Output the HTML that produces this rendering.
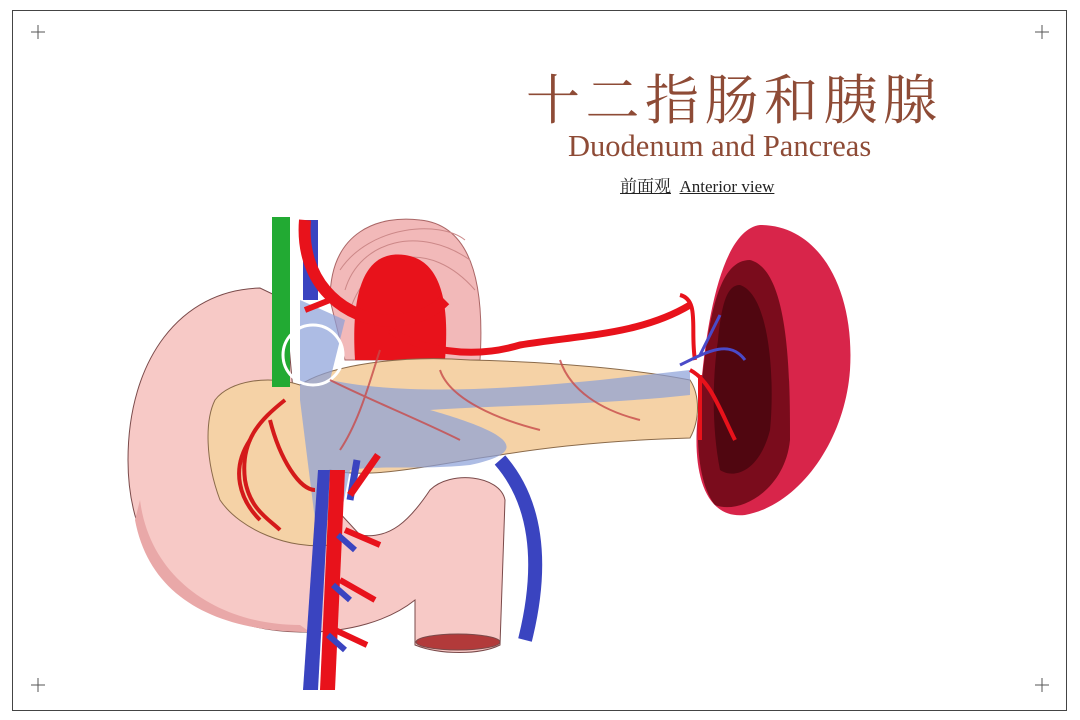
<!DOCTYPE html>
<html><head><meta charset="utf-8"><style>
html,body{margin:0;padding:0;background:#fff;}
body{width:1080px;height:720px;position:relative;overflow:hidden;}
.frame{position:absolute;left:12px;top:10px;width:1055px;height:701px;border:1.5px solid #444;box-sizing:border-box;}
.t1{position:absolute;left:526px;top:58px;font-family:"Liberation Serif","Noto Serif CJK SC",serif;font-size:54px;color:#8e4b36;letter-spacing:5.5px;white-space:nowrap;}
.t2{position:absolute;left:568px;top:129px;font-family:"Liberation Serif",serif;font-size:30.5px;color:#8e4b36;white-space:nowrap;}
.t3{position:absolute;left:620px;top:172px;font-family:"Liberation Serif","Noto Serif CJK SC",serif;font-size:17px;color:#222;white-space:nowrap;}
.t3 span{text-decoration:underline;}
</style></head><body>
<div class="frame"></div>
<div class="t1">十二指肠和胰腺</div>
<div class="t2">Duodenum and Pancreas</div>
<div class="t3"><span>前面观</span>&nbsp;&nbsp;<span>Anterior view</span></div>
<svg width="1080" height="720" style="position:absolute;left:0;top:0">
<g stroke="#555" stroke-width="1">
<path d="M31 32h14M38 25v14M1035 32h14M1042 25v14M31 685h14M38 678v14M1035 685h14M1042 678v14"/>
</g>
<path d="M330 300 C330 230 380 215 420 220 C470 225 485 280 480 360 L345 360 Z" fill="#f2b9b9" stroke="#a66" stroke-width="1"/>
<g stroke="#c88" fill="none" stroke-width="1"><path d="M345 290 C360 240 420 225 470 260"/><path d="M350 310 C370 250 430 238 475 290"/><path d="M340 270 C370 225 440 220 465 240"/></g>
<path d="M355 360 C350 280 370 250 405 255 C440 260 450 300 445 360 Z" fill="#e8121b"/>
<path d="M260 288 C180 290 128 360 128 460 C128 570 200 630 300 632 C350 633 390 620 415 600 L415 645 C440 655 480 655 500 645 L505 500 C500 475 450 470 430 490 C410 520 390 540 360 535 L300 470 L285 300 Z" fill="#f7c9c6" stroke="#7a4a4a" stroke-width="1"/>
<path d="M140 500 C150 580 220 625 300 625 L310 632 C220 632 150 600 135 520 Z" fill="#e9a8a8"/>
<ellipse cx="458" cy="642" rx="42" ry="8" fill="#b23a3a" stroke="#7a4a4a"/>
<path d="M215 400 C230 380 270 375 300 385 C330 365 400 355 470 360 C560 362 640 370 690 380 C700 395 700 420 690 438 C620 440 560 445 500 455 C430 465 370 480 330 470 L330 545 C290 550 240 530 220 500 C205 460 205 420 215 400 Z" fill="#f5d2a6" stroke="#8a6a4a" stroke-width="1"/>
<path d="M300 300 L345 320 L330 380 C400 395 500 390 600 380 L690 370 L690 395 C600 405 500 405 430 410 C500 430 540 450 470 465 C420 470 380 465 350 470 L340 520 L315 520 L300 400 Z" fill="#8aa0d8" opacity="0.7"/>
<rect x="272" y="217" width="18" height="170" fill="#22aa33"/>
<path d="M303 220 L318 220 L318 300 L303 300Z" fill="#3a44c0"/>
<path d="M305 220 C300 280 340 315 380 320 C410 322 430 315 445 300" stroke="#e8121b" stroke-width="12" fill="none"/>
<path d="M390 330 C420 350 470 360 520 345 C580 335 640 335 690 305" stroke="#e8121b" stroke-width="7" fill="none"/>
<path d="M330 300 L305 310" stroke="#e8121b" stroke-width="6"/>
<circle cx="313" cy="355" r="30" fill="none" stroke="#fff" stroke-width="3"/>
<g stroke="#d41a1a" stroke-width="4" fill="none">
<path d="M285 400 C260 420 240 440 245 480 C250 510 270 520 280 530"/>
<path d="M270 420 C280 460 300 490 315 490"/>
<path d="M250 440 C230 470 240 500 260 520"/>
</g>
<g stroke="#c84a4a" stroke-width="2" fill="none" opacity="0.8">
<path d="M330 380 C370 400 420 420 460 440"/><path d="M440 370 C450 400 500 420 540 430"/><path d="M560 360 C570 390 600 410 640 420"/><path d="M380 350 C370 380 360 420 340 450"/>
</g>
<path d="M318 470 L330 470 L318 690 L303 690Z" fill="#3a44c0"/>
<path d="M330 470 L345 470 L335 690 L320 690Z" fill="#e8121b"/>
<path d="M357 460 L350 500" stroke="#3a44c0" stroke-width="7"/>
<path d="M378 455 L350 495" stroke="#e8121b" stroke-width="7"/>
<g stroke="#e8121b" stroke-width="6"><path d="M345 530 L380 545"/><path d="M340 580 L375 600"/><path d="M335 630 L367 645"/></g>
<g stroke="#3a44c0" stroke-width="6"><path d="M338 535 L355 550"/><path d="M333 585 L350 600"/><path d="M328 635 L345 650"/></g>
<path d="M500 460 C535 500 545 560 525 640" stroke="#3a44c0" stroke-width="14" fill="none"/>
<path d="M760 225 C820 225 855 290 850 370 C845 440 800 505 745 515 C700 520 690 460 700 400 C705 330 720 230 760 225 Z" fill="#d8254a"/>
<path d="M750 260 C790 270 790 380 790 440 C785 490 740 515 715 505 C695 480 695 420 702 380 C710 310 720 260 750 260 Z" fill="#7a0c1c"/>
<path d="M740 285 C770 295 775 380 770 430 C760 470 735 480 720 470 C712 430 712 380 718 340 C722 300 728 285 740 285 Z" fill="#500610"/>
<g stroke="#e8121b" stroke-width="4" fill="none"><path d="M690 370 C710 380 720 410 735 440"/><path d="M700 375 L700 440"/><path d="M695 360 C690 330 700 300 680 295"/></g>
<g stroke="#4a4ac8" stroke-width="3" fill="none"><path d="M680 365 C710 350 730 340 745 360"/><path d="M700 355 L720 315"/></g>
</svg>
</body></html>
